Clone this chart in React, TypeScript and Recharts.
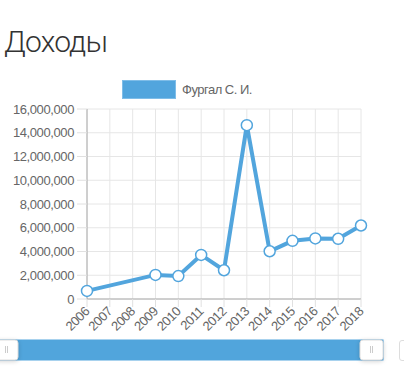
import React from 'react';
import { LineChart, Line, XAxis, YAxis, CartesianGrid, Legend, Brush } from 'recharts';

const years = ['2006', '2007', '2008', '2009', '2010', '2011', '2012', '2013', '2014', '2015', '2016', '2017', '2018'];
const incomes: (number | null)[] = [680000, null, null, 2030000, 1930000, 3710000, 2420000, 14640000, 4020000, 4900000, 5100000, 5070000, 6190000];
const yTicks = [0, 2000000, 4000000, 6000000, 8000000, 10000000, 12000000, 14000000, 16000000];
const seriesName = 'Фургал С. И.';
const title = 'Доходы';

const data = years.map((year, i) => ({ year, value: incomes[i] }));

const BLUE = '#52a5dd';
const FONT = '"Liberation Sans", Arial, Helvetica, sans-serif';

const XTick = (props: any) => {
  const { x, y, payload } = props;
  return (
    <g transform={`translate(${x},${y})`}>
      <text x={0} y={0} dy="0.35em" textAnchor="end" transform="rotate(-45)" fill="#666" fontSize={13} letterSpacing={-0.4} fontFamily={FONT}>
        {payload.value}
      </text>
    </g>
  );
};

const Traveller = (props: any) => {
  const { x, y, width, height } = props;
  const cx = x + width / 2;
  return (
    <g>
      <rect x={x} y={y} width={width} height={height} rx={3} ry={3} fill="#fff" stroke="#ddd" strokeWidth={1} style={{ filter: 'drop-shadow(0px 1px 2px rgba(0,0,0,0.18))' }} />
      <line x1={cx - 1} y1={y + 6} x2={cx - 1} y2={y + 13} stroke="#ccc" strokeWidth={1} />
      <line x1={cx + 1} y1={y + 6} x2={cx + 1} y2={y + 13} stroke="#ccc" strokeWidth={1} />
    </g>
  );
};

const LegendContent = () => (
  <div style={{ display: 'flex', alignItems: 'center', paddingLeft: 122, height: 19 }}>
    <div style={{ width: 52, height: 17, background: BLUE, border: '1px solid #7fbde8' }} />
    <span style={{ marginLeft: 6, fontSize: 13, color: '#666', fontFamily: FONT, letterSpacing: -0.5 }}>{seriesName}</span>
  </div>
);

export default function App() {
  return (
    <div style={{ position: 'absolute', left: 0, top: 0, width: 404, height: 368, background: '#fff', overflow: 'hidden' }}>
      <div style={{ position: 'absolute', left: 4, top: 22, fontFamily: 'Roboto, "Liberation Sans", sans-serif', fontWeight: 300, fontSize: 30, color: '#333', letterSpacing: -0.8, lineHeight: '40px' }}>
        {title}
      </div>
      <div style={{ position: 'absolute', left: 399, top: 340, width: 30, height: 19, border: '1px solid #ddd', borderRadius: 3, background: '#fff' }} />
      <LineChart width={404} height={368} data={data} margin={{ top: 90, right: 43, bottom: 8, left: 0 }}>
        <Legend verticalAlign="top" content={<LegendContent />} wrapperStyle={{ top: 80, left: 0, width: 404 }} />
        <CartesianGrid stroke="#e6e6e6" />
        <XAxis
          dataKey="year"
          interval={0}
          height={41}
          tick={<XTick />}
          tickSize={8}
          tickMargin={2}
          axisLine={{ stroke: '#aaa' }}
          tickLine={{ stroke: '#e0e0e0' }}
        />
        <YAxis
          width={87}
          domain={[0, 16000000]}
          ticks={yTicks}
          interval={0}
          tickFormatter={(v: number) => v.toLocaleString('en-US')}
          tick={{ fill: '#666', fontSize: 13, fontFamily: FONT, letterSpacing: -0.4 }}
          tickSize={10}
          tickMargin={3}
          axisLine={{ stroke: '#aaa' }}
          tickLine={{ stroke: '#e0e0e0' }}
        />
        <Line
          type="linear"
          dataKey="value"
          name={seriesName}
          connectNulls
          stroke={BLUE}
          strokeWidth={4}
          dot={{ r: 5.5, fill: '#fff', stroke: BLUE, strokeWidth: 1.5 }}
          activeDot={false}
          isAnimationActive={false}
        />
        <Brush
          dataKey="year"
          x={-5}
          y={340}
          width={388}
          height={20}
          travellerWidth={23}
          fill={BLUE}
          stroke={BLUE}
          traveller={(p: any) => <Traveller {...p} />}
        />
      </LineChart>
    </div>
  );
}
